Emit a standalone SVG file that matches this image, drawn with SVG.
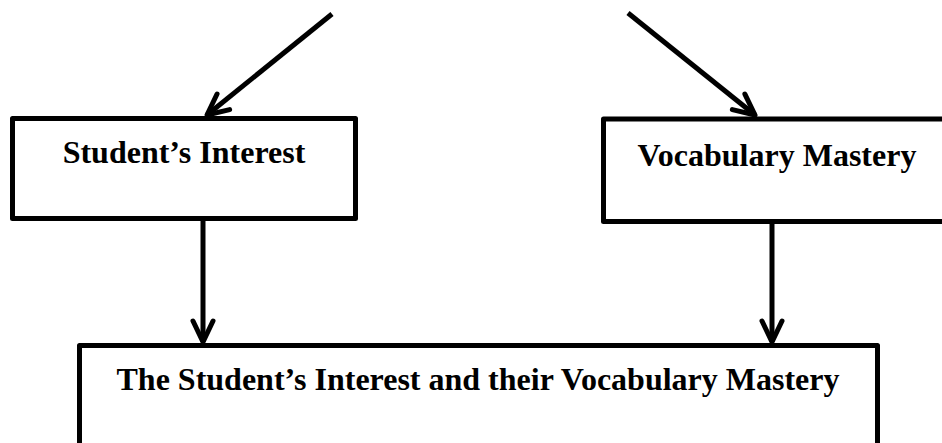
<svg xmlns="http://www.w3.org/2000/svg" width="942" height="443" viewBox="0 0 942 443">
  <style>
    .box { fill: #ffffff; stroke: #000000; stroke-width: 5; stroke-linejoin: round; }
    .lbl { font-family: "Liberation Serif", "Times New Roman", serif; font-weight: bold; font-size: 32px; fill: #000000; text-anchor: middle; }
    .edge { fill: none; stroke: #000000; stroke-width: 5; marker-end: url(#arr); }
  </style>
  <defs>
    <marker id="arr" markerUnits="userSpaceOnUse" markerWidth="30" markerHeight="30" viewBox="-26 -15 30 30" refX="0" refY="0" orient="auto" overflow="visible">
      <path d="M -21,-10 L 0,0 L -21,10" fill="none" stroke="#000000" stroke-width="5" stroke-linecap="round" stroke-linejoin="round"/>
    </marker>
  </defs>
  <rect width="942" height="443" fill="#ffffff"/>
  <g id="node-student-interest">
    <rect class="box" x="12.5" y="118.5" width="343" height="100"/>
    <text class="lbl" x="184" y="163">Student’s Interest</text>
  </g>
  <g id="node-vocabulary-mastery">
    <rect class="box" x="603.5" y="119" width="345" height="102.5"/>
    <text class="lbl" x="777" y="166">Vocabulary Mastery</text>
  </g>
  <g id="node-combined">
    <rect class="box" x="79.5" y="345.5" width="798" height="101"/>
    <text class="lbl" x="478" y="390">The Student’s Interest and their Vocabulary Mastery</text>
  </g>
  <g id="connectors">
    <line class="edge" x1="332" y1="14" x2="207" y2="115"/>
    <line class="edge" x1="628" y1="13" x2="755" y2="115"/>
    <line class="edge" x1="203" y1="221" x2="203" y2="342"/>
    <line class="edge" x1="772" y1="223" x2="772" y2="342"/>
  </g>
</svg>
